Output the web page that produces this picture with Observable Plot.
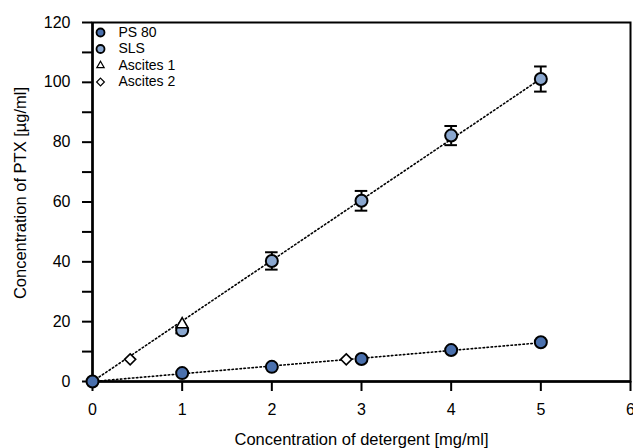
<!DOCTYPE html>
<html><head><meta charset="utf-8">
<script src="https://cdn.jsdelivr.net/npm/d3@7"></script>
<script src="https://cdn.jsdelivr.net/npm/@observablehq/plot@0.6"></script>
<style>
body{margin:0;background:#fff}
#chart g[aria-label$="tick label"]{font-size:16px}
</style>
</head><body><div id="chart"></div>
<script>
// ---- data ----
const xTicks = [0, 1, 2, 3, 4, 5, 6];
const yTicks = [0, 20, 40, 60, 80, 100, 120];
const yMinor = [10, 30, 50, 70, 90, 110];

const ps80Conc = [0, 1, 2, 3, 4, 5];
const ps80Ptx = [0, 2.8, 4.9, 7.5, 10.5, 13.1];

const slsConc = [1, 2, 3, 4, 5];
const slsPtx = [17.1, 40.3, 60.4, 82.2, 101.1];
const slsErr = [1.0, 2.9, 3.3, 3.2, 4.2];

const ascites1Conc = [1];
const ascites1Ptx = [19.1];
const ascites2Conc = [0.42, 2.83];
const ascites2Ptx = [7.4, 7.4];

const legendLabels = ["PS 80", "SLS", "Ascites 1", "Ascites 2"];
const xLabel = "Concentration of detergent [mg/ml]";
const yLabel = "Concentration of PTX [µg/ml]";

const colPS = "#4a70ad";
const colSLS = "#8aa7cf";

// ---- tables ----
const ps80 = ps80Conc.map((x, i) => ({x, y: ps80Ptx[i]}));
const sls = slsConc.map((x, i) => ({x, y: slsPtx[i], e: slsErr[i]}));
const asc1 = ascites1Conc.map((x, i) => ({x, y: ascites1Ptx[i]}));
const asc2 = ascites2Conc.map((x, i) => ({x, y: ascites2Ptx[i]}));

// linear fits through origin
const slope = pts => d3.sum(pts, d => d.x * d.y) / d3.sum(pts, d => d.x * d.x);
const kPS = slope(ps80), kSLS = slope(sls);
const fitX = [0, d3.max(ps80Conc)];
const ps80Fit = fitX.map(x => ({x, y: kPS * x}));
const slsFit = fitX.map(x => ({x, y: kSLS * x}));

const capHalf = 0.07;

const legendItems = [
  {label: legendLabels[0], symbol: "circle", fill: colPS, r: 4},
  {label: legendLabels[1], symbol: "circle", fill: colSLS, r: 4},
  {label: legendLabels[2], symbol: "triangle2", fill: "#fff", r: 3.5},
  {label: legendLabels[3], symbol: "diamond2", fill: "#fff", r: 3.5}
];
const legendMarks = legendItems.flatMap((it, i) => [
  Plot.dot([it], {frameAnchor: "top-left", dx: 8, dy: 10 + i * 16.5, symbol: () => it.symbol, r: it.r,
    fill: () => it.fill, stroke: "#000", strokeWidth: it.symbol === "circle" ? 1.8 : 1.2}),
  Plot.text([it], {frameAnchor: "top-left", dx: 26, dy: 10 + i * 16.5, text: "label", textAnchor: "start",
    lineAnchor: "middle", fontSize: 14, fill: "#000"})
]);

const chart = Plot.plot({
  width: 633, height: 448,
  marginLeft: 92, marginRight: 3, marginTop: 22, marginBottom: 67,
  x: {domain: [0, 6], axis: null},
  y: {domain: [0, 120], axis: null},
  style: {fontFamily: "'Liberation Sans', Arial, sans-serif", fontSize: "16px", color: "#000", background: "#fff"},
  marks: [
    Plot.frame({stroke: "#000", strokeWidth: 2}),
    Plot.axisY(yTicks, {tickSize: 10, tickPadding: 12, strokeWidth: 2, fontSize: 16, label: null}),
    Plot.axisY(yMinor, {tickSize: 10, tickFormat: () => "", strokeWidth: 2, label: null}),
    Plot.axisX(xTicks, {tickSize: 10, tickPadding: 12, strokeWidth: 2, fontSize: 16, label: null}),
    Plot.ruleX([0], {stroke: "#000", strokeWidth: 2.5}),
    Plot.ruleY([0], {stroke: "#000", strokeWidth: 2.5}),
    Plot.text([yLabel], {frameAnchor: "left", dx: -72, dy: -9, rotate: -90, textAnchor: "middle",
      lineAnchor: "middle", fontSize: 16.5, fill: "#000"}),
    Plot.text([xLabel], {frameAnchor: "bottom", dy: 58, textAnchor: "middle", lineAnchor: "middle",
      fontSize: 16.5, fill: "#000"}),
    // fit lines
    Plot.line(slsFit, {x: "x", y: "y", stroke: "#000", strokeWidth: 1.6, strokeDasharray: "1.5,2.5"}),
    Plot.line(ps80Fit, {x: "x", y: "y", stroke: "#000", strokeWidth: 1.6, strokeDasharray: "1.5,2.5"}),
    // error bars
    Plot.ruleX(sls, {x: "x", y1: d => d.y - d.e, y2: d => d.y + d.e, stroke: "#000", strokeWidth: 2}),
    Plot.ruleY(sls, {y: d => d.y - d.e, x1: d => d.x - capHalf, x2: d => d.x + capHalf, stroke: "#000", strokeWidth: 2}),
    Plot.ruleY(sls, {y: d => d.y + d.e, x1: d => d.x - capHalf, x2: d => d.x + capHalf, stroke: "#000", strokeWidth: 2}),
    // points
    Plot.dot(sls, {x: "x", y: "y", r: 6, fill: colSLS, stroke: "#000", strokeWidth: 2}),
    Plot.dot(ps80, {x: "x", y: "y", r: 6, fill: colPS, stroke: "#000", strokeWidth: 2}),
    Plot.dot(asc1, {x: "x", y: "y", r: 5.5, symbol: "triangle2", fill: "#fff", stroke: "#000", strokeWidth: 1.6}),
    Plot.dot(asc2, {x: "x", y: "y", r: 5, symbol: "diamond2", fill: "#fff", stroke: "#000", strokeWidth: 1.6}),
    ...legendMarks
  ]
});
document.getElementById("chart").appendChild(chart);
</script>
</body></html>
